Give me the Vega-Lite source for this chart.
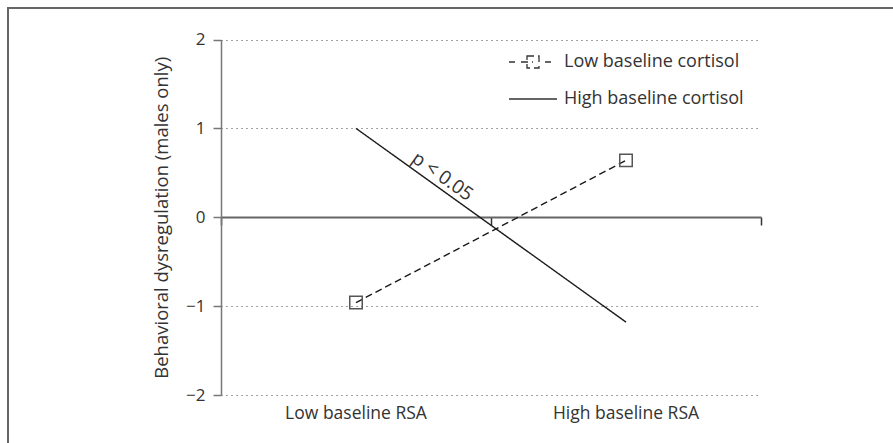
{
  "$schema": "https://vega.github.io/schema/vega-lite/v6.json",
  "width": 895,
  "height": 445,
  "autosize": {"type": "none"},
  "padding": {"left": 8, "top": 8, "right": -10, "bottom": -10},
  "background": "white",
  "config": {
    "font": "Open Sans",
    "view": {"stroke": "#666666", "strokeWidth": 2}
  },
  "resolve": {"axis": {"x": "independent"}},
  "layer": [
    {
      "data": {
        "values": [
          {"rsa": "Low baseline RSA", "cortisol": "Low baseline cortisol", "value": -0.96},
          {"rsa": "High baseline RSA", "cortisol": "Low baseline cortisol", "value": 0.64},
          {"rsa": "Low baseline RSA", "cortisol": "High baseline cortisol", "value": 1.0},
          {"rsa": "High baseline RSA", "cortisol": "High baseline cortisol", "value": -1.18}
        ]
      },
      "mark": {"type": "line", "color": "#1a1a1a", "strokeWidth": 1.4},
      "encoding": {
        "x": {
          "field": "rsa",
          "type": "nominal",
          "bandPosition": 0.5,
          "scale": {
            "type": "band",
            "domain": ["Low baseline RSA", "High baseline RSA"],
            "range": [213, 753],
            "paddingInner": 0,
            "paddingOuter": 0
          },
          "axis": {
            "orient": "bottom",
            "offset": -58,
            "title": null,
            "domain": false,
            "ticks": false,
            "grid": false,
            "labelAngle": 0,
            "labelPadding": 9,
            "labelFontSize": 17.5,
            "labelColor": "#333333"
          }
        },
        "y": {
          "field": "value",
          "type": "quantitative",
          "title": "Behavioral dysregulation (males only)",
          "scale": {"domain": [-2, 2], "range": [387, 31.5], "nice": false, "zero": false},
          "axis": {
            "orient": "left",
            "offset": -213,
            "values": [-2, -1, 0, 1, 2],
            "format": "d",
            "titleFontSize": 18.5,
            "titleFontWeight": "normal",
            "titleColor": "#333333",
            "titlePadding": 14,
            "labelFontSize": 17,
            "labelColor": "#333333",
            "labelPadding": 8,
            "tickSize": 8,
            "tickColor": "#777777",
            "tickWidth": 1.5,
            "domainColor": "#777777",
            "domainWidth": 1.5,
            "grid": true,
            "gridColor": "#444444",
            "gridWidth": 1,
            "gridDash": [1, 4]
          }
        },
        "strokeDash": {
          "field": "cortisol",
          "type": "nominal",
          "scale": {
            "domain": ["Low baseline cortisol", "High baseline cortisol"],
            "range": [[7, 4], [1, 0]]
          },
          "legend": {
            "orient": "none",
            "legendX": 500,
            "legendY": 29,
            "title": null,
            "padding": 0,
            "symbolSize": 2304,
            "symbolStrokeWidth": 1.3,
            "symbolStrokeColor": "#333333",
            "labelFontSize": 18,
            "labelColor": "#333333",
            "labelLimit": 400,
            "labelOffset": 6,
            "rowPadding": 3,
            "encode": {
              "symbols": {
                "update": {
                  "shape": {"signal": "datum.value === 'Low baseline cortisol' ? 'M-1,0H-0.75M-0.5,0H0M-0.25,-0.25H0.25V0.25H-0.25ZM0.5,0H0.75' : 'M-1,0H1'"},
                  "strokeDash": {"value": [1, 0]},
                  "fill": {"value": "transparent"},
                  "stroke": {"value": "#333333"}
                }
              }
            }
          }
        }
      }
    },
    {
      "data": {
        "values": [
          {"rsa": "Low baseline RSA", "cortisol": "Low baseline cortisol", "value": -0.96},
          {"rsa": "High baseline RSA", "cortisol": "Low baseline cortisol", "value": 0.64}
        ]
      },
      "mark": {"type": "point", "shape": "square", "size": 156, "filled": false, "stroke": "#555555", "strokeWidth": 1.5, "opacity": 1},
      "encoding": {
        "x": {
          "field": "rsa",
          "type": "nominal",
          "bandPosition": 0.5,
          "axis": {
            "orient": "bottom",
            "offset": -236,
            "title": null,
            "labels": false,
            "grid": false,
            "domain": true,
            "domainColor": "#666666",
            "domainWidth": 2,
            "ticks": true,
            "tickBand": "extent",
            "tickSize": 8,
            "tickColor": "#333333",
            "tickWidth": 1.5
          }
        },
        "y": {"field": "value", "type": "quantitative", "title": "Behavioral dysregulation (males only)"}
      }
    },
    {
      "data": {"values": [{"rsa": "Low baseline RSA", "label": "p < 0.05"}]},
      "mark": {"type": "text", "angle": 35.5, "fontSize": 19, "color": "#333333", "align": "center", "baseline": "middle"},
      "encoding": {
        "x": {"field": "rsa", "type": "nominal", "bandPosition": 0.82, "axis": null},
        "y": {"datum": 0.46, "type": "quantitative", "title": "Behavioral dysregulation (males only)"},
        "text": {"field": "label"}
      }
    }
  ]
}
